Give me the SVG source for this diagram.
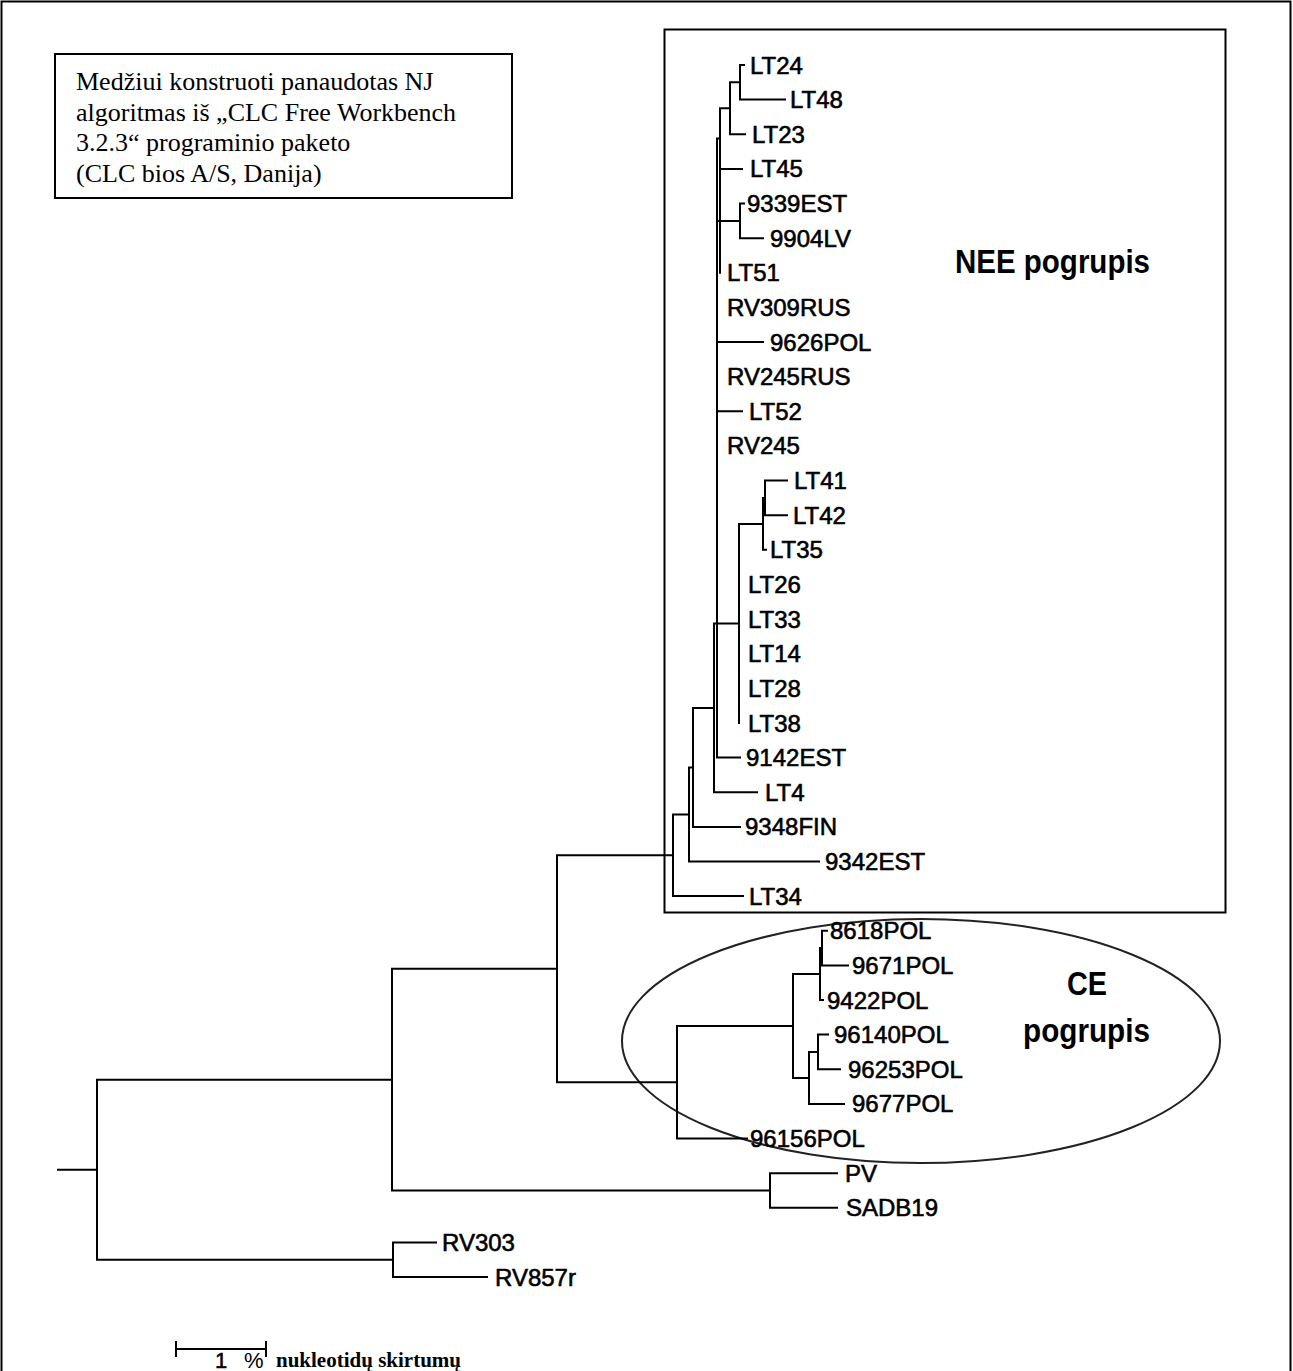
<svg xmlns="http://www.w3.org/2000/svg" width="1293" height="1371" viewBox="0 0 1293 1371">
<style>
.lbl{font-family:"Liberation Sans",Arial,sans-serif;font-size:24px;fill:#000;stroke:#000;stroke-width:0.6}
.br{fill:none;stroke:#000;stroke-width:2;stroke-linecap:square}
.note{font-family:"Liberation Serif","Times New Roman",serif;font-size:26px;fill:#000}
.grp{font-family:"Liberation Sans",Arial,sans-serif;font-size:34px;font-weight:bold;fill:#000}
</style>
<rect x="0" y="0" width="1293" height="1371" fill="#fff"/>
<rect id="frame" x="1.5" y="1.5" width="1289" height="1390" fill="none" stroke="#000" stroke-width="2"/>

<g id="note">
<rect x="55" y="54" width="457" height="144" fill="#fff" stroke="#000" stroke-width="2"/>
<text class="note" x="76" y="90">Medžiui konstruoti panaudotas NJ</text>
<text class="note" x="76" y="120.5">algoritmas iš „CLC Free Workbench</text>
<text class="note" x="76" y="151">3.2.3“ programinio paketo</text>
<text class="note" x="76" y="181.5">(CLC bios A/S, Danija)</text>
</g>

<g id="nee-box">
<rect x="664.5" y="29.5" width="561" height="883" fill="none" stroke="#000" stroke-width="2"/>
<text class="grp" x="955" y="273" textLength="195" lengthAdjust="spacingAndGlyphs">NEE pogrupis</text>
</g>

<g id="ce-ellipse">
<ellipse cx="921" cy="1041" rx="299" ry="122" fill="none" stroke="#222" stroke-width="2"/>
<text class="grp" x="1067" y="995" textLength="40" lengthAdjust="spacingAndGlyphs">CE</text>
<text class="grp" x="1023" y="1042" textLength="127" lengthAdjust="spacingAndGlyphs">pogrupis</text>
</g>

<g id="branches">
<path class="br" d="
M740,65 V99.6 M740,65 H744 M740,99.6 H785
M730,82.3 H740 M730,82.3 V134.3 M730,134.3 H745
M720,108.3 H730 M720,108.3 V272.8 M720,168.9 H742
M717,138.6 H720 M717,138.6 V757.6
M740,203.5 V238.2 M740,203.5 H744 M740,238.2 H763 M717,220.9 H740
M717,342 H763
M717,411.3 H742
M765,480.6 V515.2 M765,480.6 H787 M765,515.2 H787
M763,497.9 H765 M763,497.9 V549.8 M763,549.8 H766
M739,523.9 H763 M739,523.9 V723
M714,623.5 H739 M714,623.5 V792.2 M714,792.2 H757
M717,757.6 H740
M693,707.9 H714 M693,707.9 V826.9 M693,826.9 H740
M689,767.4 H693 M689,767.4 V861.5 M689,861.5 H819
M673,814.5 H689 M673,814.5 V896.1 M673,896.1 H743
M557,855.3 H673
M822,930.8 V965.4 M822,930.8 H827 M822,965.4 H848
M820,948.1 H822 M820,948.1 V1000 M820,1000 H823
M793,974 H820
M818,1034.6 V1069.3 M818,1034.6 H828 M818,1069.3 H840
M809,1052 H818 M809,1052 V1103.9 M809,1103.9 H844
M793,1078 H809 M793,974 V1078
M677,1026 H793 M677,1026 V1138.5 M677,1138.5 H747
M557,1082.3 H677 M557,855.3 V1082.3
M392,968.8 H557
M770,1173.2 V1207.8 M770,1173.2 H837 M770,1207.8 H837
M392,1190.5 H770 M392,968.8 V1190.5
M97,1079.7 H392
M393,1242.4 V1277.1 M393,1242.4 H436 M393,1277.1 H487
M97,1259.8 H393 M97,1079.7 V1259.8
M58,1169.8 H97"/>
</g>

<g id="leaf-LT24"><text class="lbl" x="750" y="73.5">LT24</text></g>
<g id="leaf-LT48"><text class="lbl" x="790" y="108.1">LT48</text></g>
<g id="leaf-LT23"><text class="lbl" x="752" y="142.8">LT23</text></g>
<g id="leaf-LT45"><text class="lbl" x="750" y="177.4">LT45</text></g>
<g id="leaf-9339EST"><text class="lbl" x="747" y="212">9339EST</text></g>
<g id="leaf-9904LV"><text class="lbl" x="770" y="246.7">9904LV</text></g>
<g id="leaf-LT51"><text class="lbl" x="727" y="281.3">LT51</text></g>
<g id="leaf-RV309RUS"><text class="lbl" x="727" y="315.9">RV309RUS</text></g>
<g id="leaf-9626POL"><text class="lbl" x="770" y="350.5">9626POL</text></g>
<g id="leaf-RV245RUS"><text class="lbl" x="727" y="385.2">RV245RUS</text></g>
<g id="leaf-LT52"><text class="lbl" x="749" y="419.8">LT52</text></g>
<g id="leaf-RV245"><text class="lbl" x="727" y="454.4">RV245</text></g>
<g id="leaf-LT41"><text class="lbl" x="794" y="489.1">LT41</text></g>
<g id="leaf-LT42"><text class="lbl" x="793" y="523.7">LT42</text></g>
<g id="leaf-LT35"><text class="lbl" x="770" y="558.3">LT35</text></g>
<g id="leaf-LT26"><text class="lbl" x="748" y="593">LT26</text></g>
<g id="leaf-LT33"><text class="lbl" x="748" y="627.6">LT33</text></g>
<g id="leaf-LT14"><text class="lbl" x="748" y="662.2">LT14</text></g>
<g id="leaf-LT28"><text class="lbl" x="748" y="696.8">LT28</text></g>
<g id="leaf-LT38"><text class="lbl" x="748" y="731.5">LT38</text></g>
<g id="leaf-9142EST"><text class="lbl" x="746" y="766.1">9142EST</text></g>
<g id="leaf-LT4"><text class="lbl" x="765" y="800.7">LT4</text></g>
<g id="leaf-9348FIN"><text class="lbl" x="745" y="835.4">9348FIN</text></g>
<g id="leaf-9342EST"><text class="lbl" x="825" y="870">9342EST</text></g>
<g id="leaf-LT34"><text class="lbl" x="749" y="904.6">LT34</text></g>
<g id="leaf-8618POL"><text class="lbl" x="830" y="939.3">8618POL</text></g>
<g id="leaf-9671POL"><text class="lbl" x="852" y="973.9">9671POL</text></g>
<g id="leaf-9422POL"><text class="lbl" x="827" y="1008.5">9422POL</text></g>
<g id="leaf-96140POL"><text class="lbl" x="834" y="1043.1">96140POL</text></g>
<g id="leaf-96253POL"><text class="lbl" x="848" y="1077.8">96253POL</text></g>
<g id="leaf-9677POL"><text class="lbl" x="852" y="1112.4">9677POL</text></g>
<g id="leaf-96156POL"><text class="lbl" x="750" y="1147">96156POL</text></g>
<g id="leaf-PV"><text class="lbl" x="845" y="1181.7">PV</text></g>
<g id="leaf-SADB19"><text class="lbl" x="846" y="1216.3">SADB19</text></g>
<g id="leaf-RV303"><text class="lbl" x="442" y="1250.9">RV303</text></g>
<g id="leaf-RV857r"><text class="lbl" x="495" y="1285.6">RV857r</text></g>

<g id="scale-bar">
<path class="br" d="M176,1349 H266 M176,1342 V1356 M266,1342 V1356"/>
<text x="215" y="1368" font-family="'Liberation Sans',Arial,sans-serif" font-size="22" stroke="#000" stroke-width="0.5">1</text>
<text x="244" y="1368" font-family="'Liberation Sans',Arial,sans-serif" font-size="22">%</text>
<text x="276" y="1367" font-family="'Liberation Serif','Times New Roman',serif" font-size="21" font-weight="bold">nukleotidų skirtumų</text>
</g>
</svg>
